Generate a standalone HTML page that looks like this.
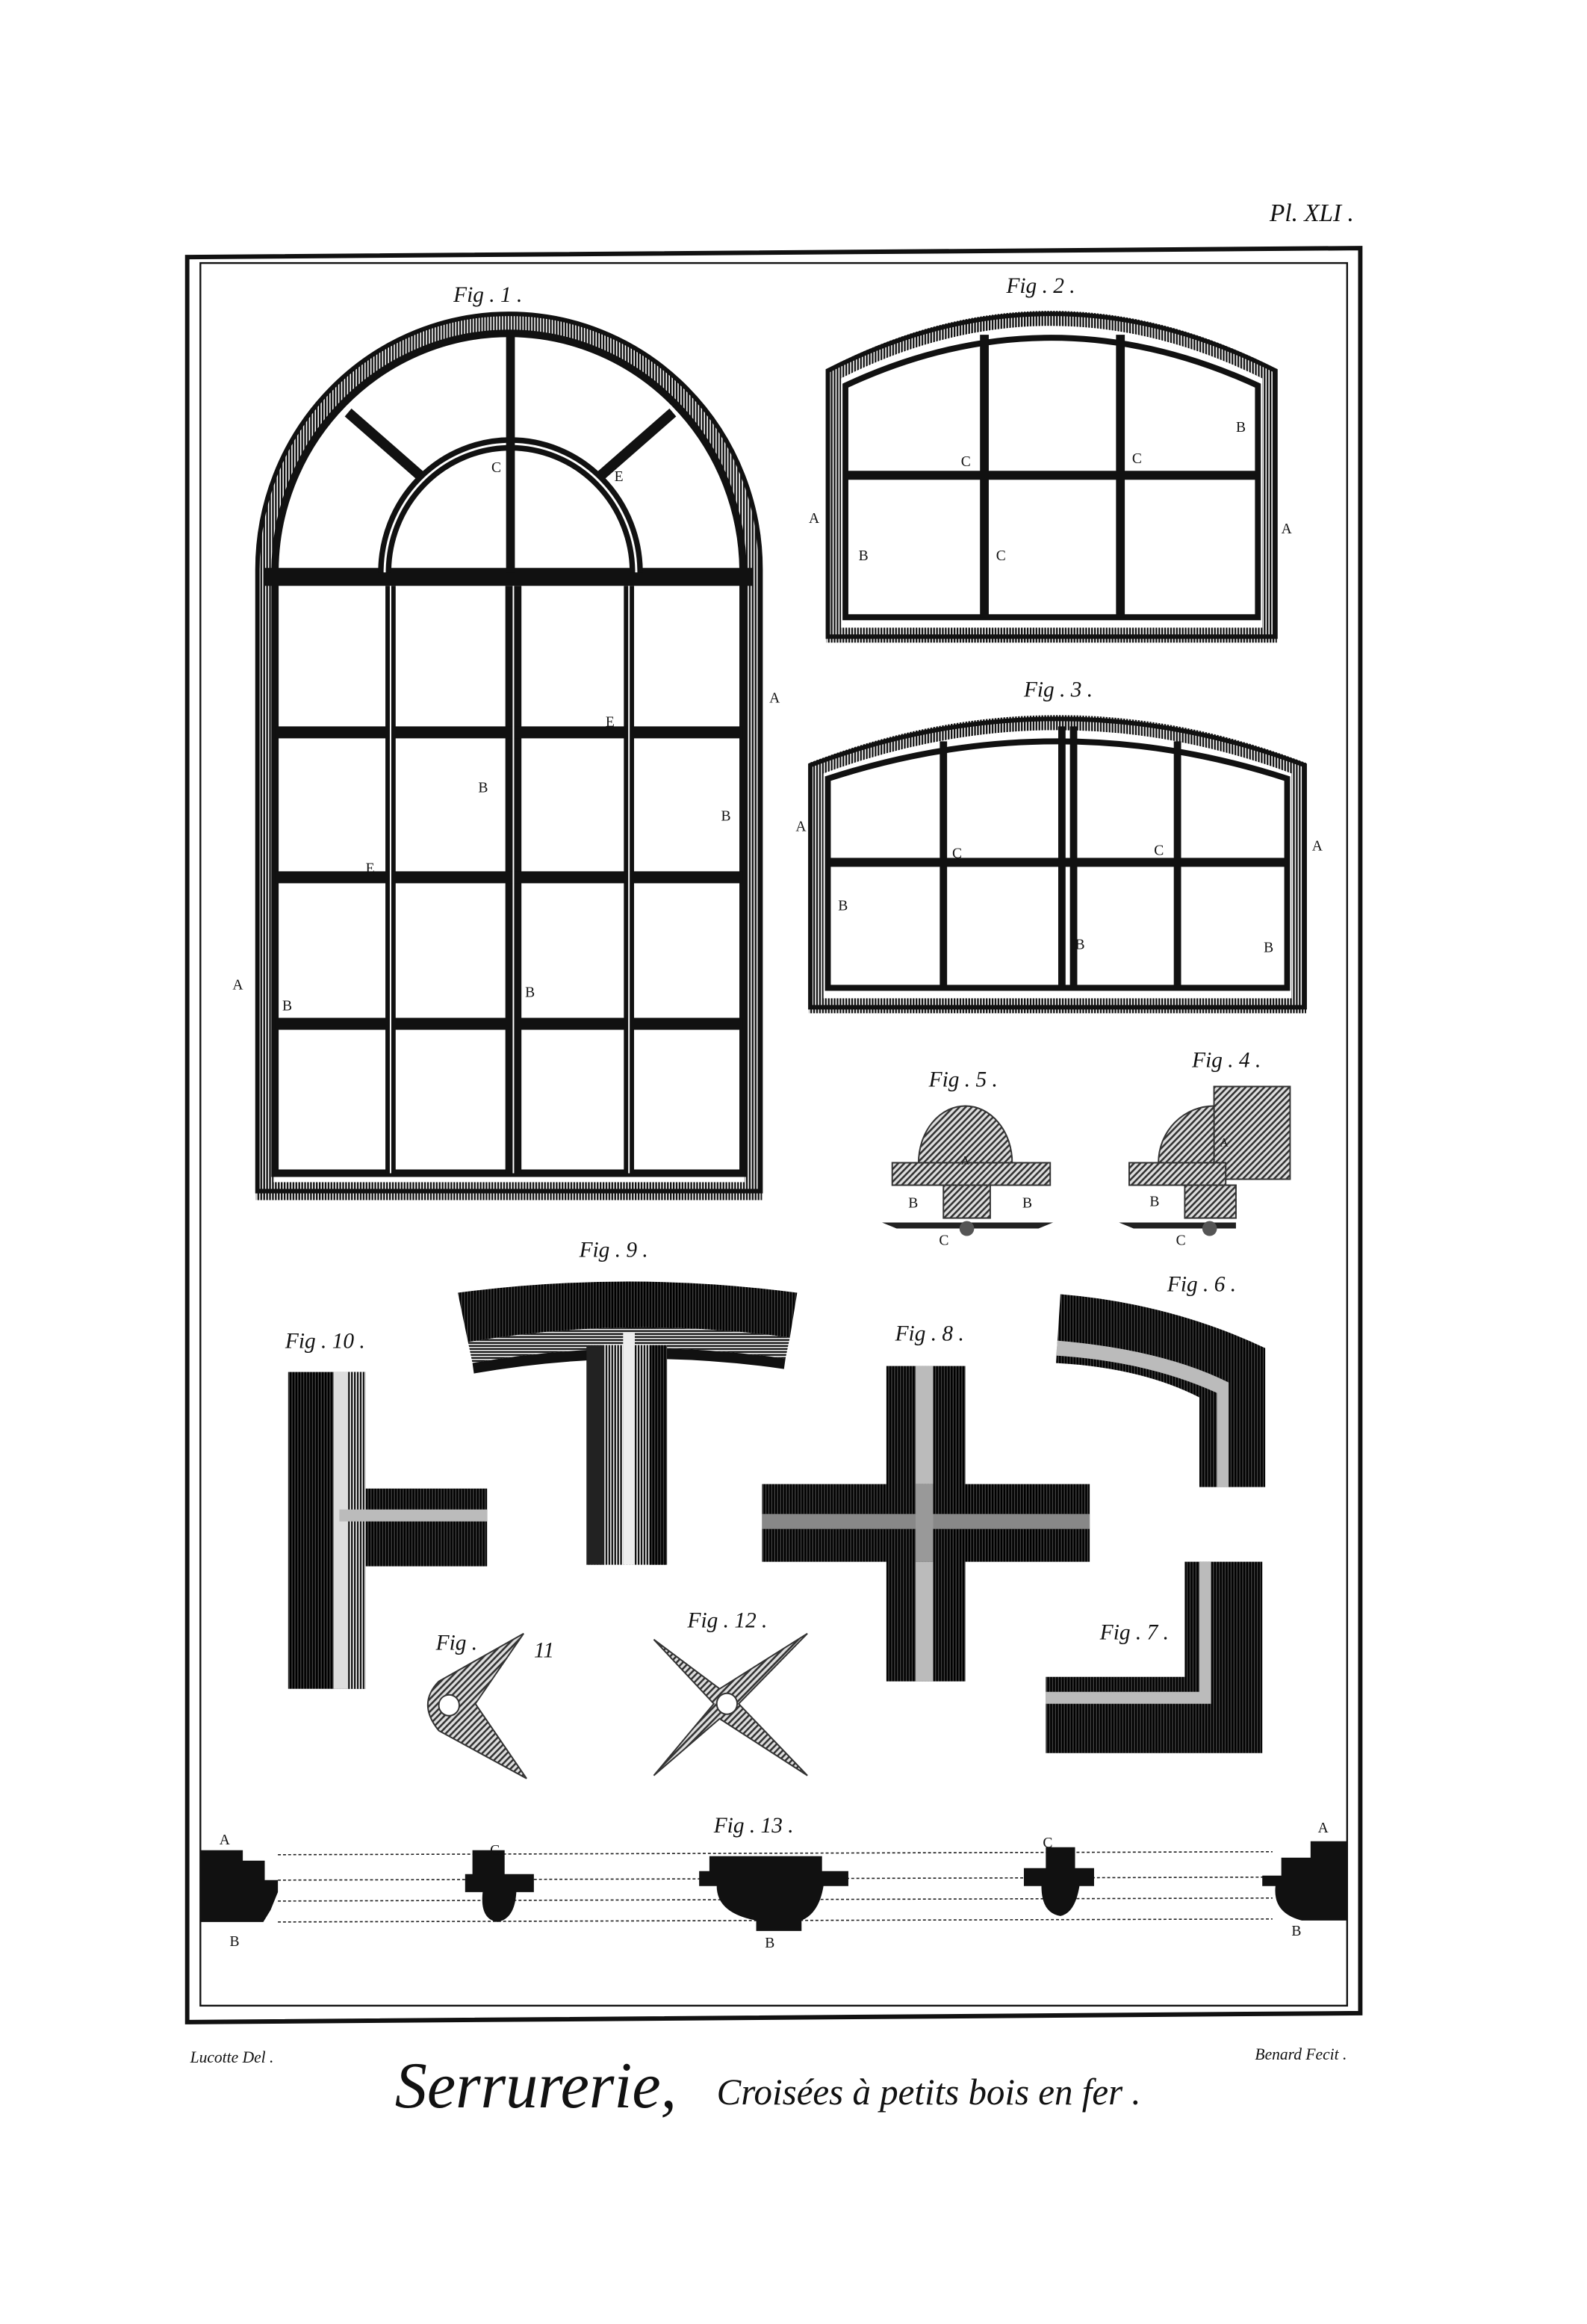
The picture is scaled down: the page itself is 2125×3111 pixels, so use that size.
<!DOCTYPE html>
<html><head><meta charset="utf-8"><style>
html,body{margin:0;padding:0;background:#fff;}
svg{display:block;}
text{font-family:"Liberation Serif",serif;fill:#111;}
.fig{font-style:italic;font-size:15px;}
.l{font-size:10px;}
</style></head><body>
<svg width="2125" height="3111" viewBox="0 0 1085 1555" preserveAspectRatio="none" xmlns="http://www.w3.org/2000/svg">
<defs>
<pattern id="vh" width="2" height="4" patternUnits="userSpaceOnUse"><rect width="2" height="4" fill="#fff"/><rect width="1.2" height="4" fill="#111"/></pattern>
<pattern id="hh" width="4" height="2" patternUnits="userSpaceOnUse"><rect width="4" height="2" fill="#fff"/><rect width="4" height="1.2" fill="#111"/></pattern>
<pattern id="dh" width="3" height="3" patternUnits="userSpaceOnUse" patternTransform="rotate(45)"><rect width="3" height="3" fill="#ddd"/><rect width="1.3" height="3" fill="#333"/></pattern>
<pattern id="dk" width="2" height="4" patternUnits="userSpaceOnUse"><rect width="2" height="4" fill="#444"/><rect width="1.3" height="4" fill="#000"/></pattern>
</defs>

<text x="868" y="148" class="fig" style="font-size:17px">Pl. XLI .</text>
<!-- frames -->
<path d="M128,172 L930,166 L930,1347 L128,1353 Z" fill="none" stroke="#111" stroke-width="3"/>
<rect x="137" y="176" width="784" height="1166" fill="none" stroke="#111" stroke-width="1.2"/>

<!-- Fig 1 -->
<text x="310" y="202" class="fig">Fig . 1 .</text>
<path d="M181,797 V381 A167,166 0 0 1 515,381 V797 Z" fill="none" stroke="url(#vh)" stroke-width="12"/>
<path d="M176,797 V381 A172,171 0 0 1 520,381 V797 Z" fill="none" stroke="#111" stroke-width="3"/>
<path d="M188,785 V383 A160,160 0 0 1 508,383 V785 Z" fill="none" stroke="#111" stroke-width="5"/>
<rect x="181" y="380" width="334" height="12" fill="#111"/>
<path d="M263,383 A86,86 0 0 1 435,383" fill="none" stroke="#111" stroke-width="9"/>
<path d="M263,383 A86,86 0 0 1 435,383" fill="none" stroke="#fff" stroke-width="1.5"/>
<line x1="349" y1="224" x2="349" y2="383" stroke="#111" stroke-width="6"/>
<line x1="287" y1="318" x2="238" y2="276" stroke="#111" stroke-width="7"/>
<line x1="411" y1="318" x2="460" y2="276" stroke="#111" stroke-width="7"/>
<g stroke="#111">
<line x1="267" y1="392" x2="267" y2="785" stroke-width="7"/>
<line x1="430" y1="392" x2="430" y2="785" stroke-width="7"/>
<line x1="351" y1="392" x2="351" y2="785" stroke-width="11"/>
<line x1="188" y1="490" x2="508" y2="490" stroke-width="8"/>
<line x1="188" y1="587" x2="508" y2="587" stroke-width="8"/>
<line x1="188" y1="685" x2="508" y2="685" stroke-width="8"/>
</g>
<g stroke="#fff" stroke-width="1"><line x1="351" y1="392" x2="351" y2="785"/><line x1="267" y1="392" x2="267" y2="785"/><line x1="430" y1="392" x2="430" y2="785"/></g>
<g class="l"><text x="336" y="316" class="l">C</text><text x="420" y="322" class="l">E</text><text x="526" y="470" class="l">A</text><text x="414" y="486" class="l">E</text><text x="327" y="530" class="l">B</text><text x="493" y="549" class="l">B</text><text x="250" y="584" class="l">E</text><text x="159" y="662" class="l">A</text><text x="193" y="676" class="l">B</text><text x="359" y="667" class="l">B</text></g>

<!-- Fig 2 -->
<text x="688" y="196" class="fig">Fig . 2 .</text>
<path d="M570,425 V250 Q718,176 868,250 V425 Z" fill="none" stroke="url(#vh)" stroke-width="10"/>
<path d="M566,426 V248 Q718,172 872,248 V426 Z" fill="none" stroke="#111" stroke-width="3"/>
<path d="M578,413 V258 Q718,194 860,258 V413 Z" fill="none" stroke="#111" stroke-width="4"/>
<g stroke="#111" stroke-width="6"><line x1="673" y1="224" x2="673" y2="413"/><line x1="766" y1="224" x2="766" y2="413"/><line x1="578" y1="318" x2="860" y2="318"/></g>
<text x="845" y="289" class="l">B</text><text x="657" y="312" class="l">C</text><text x="774" y="310" class="l">C</text><text x="553" y="350" class="l">A</text><text x="876" y="357" class="l">A</text><text x="587" y="375" class="l">B</text><text x="681" y="375" class="l">C</text>

<!-- Fig 3 -->
<text x="700" y="466" class="fig">Fig . 3 .</text>
<path d="M558,673 V514 Q723,453 888,514 V673 Z" fill="none" stroke="url(#vh)" stroke-width="10"/>
<path d="M554,674 V512 Q723,450 892,512 V674 Z" fill="none" stroke="#111" stroke-width="3"/>
<path d="M566,661 V521 Q723,471 880,521 V661 Z" fill="none" stroke="#111" stroke-width="4"/>
<g stroke="#111"><line x1="645" y1="496" x2="645" y2="661" stroke-width="5"/><line x1="805" y1="496" x2="805" y2="661" stroke-width="5"/><line x1="726" y1="486" x2="726" y2="661" stroke-width="5"/><line x1="734" y1="486" x2="734" y2="661" stroke-width="5"/><line x1="566" y1="577" x2="880" y2="577" stroke-width="6"/></g>
<text x="544" y="556" class="l">A</text><text x="897" y="569" class="l">A</text><text x="651" y="574" class="l">C</text><text x="789" y="572" class="l">C</text><text x="573" y="609" class="l">B</text><text x="735" y="635" class="l">B</text><text x="864" y="637" class="l">B</text>

<!-- Fig 5 -->
<text x="635" y="727" class="fig">Fig . 5 .</text>
<path d="M628,778 A32,38 0 0 1 692,778 Z" fill="url(#dh)" stroke="#333"/>
<rect x="610" y="778" width="108" height="15" fill="url(#dh)" stroke="#333"/>
<rect x="645" y="793" width="32" height="22" fill="url(#dh)" stroke="#333"/>
<path d="M603,818 L720,818 L710,822 L613,822 Z" fill="#222"/>
<circle cx="661" cy="822" r="5" fill="#555"/>
<text x="621" y="808" class="l">B</text><text x="699" y="808" class="l">B</text><text x="642" y="833" class="l">C</text><text x="657" y="779" class="l" style="font-size:8px">A</text>

<!-- Fig 4 -->
<text x="815" y="714" class="fig">Fig . 4 .</text>
<rect x="830" y="727" width="52" height="62" fill="url(#dh)" stroke="#333"/>
<path d="M792,778 A38,38 0 0 1 830,740 V778 Z" fill="url(#dh)" stroke="#333"/>
<rect x="772" y="778" width="66" height="15" fill="url(#dh)" stroke="#333"/>
<rect x="810" y="793" width="35" height="22" fill="url(#dh)" stroke="#333"/>
<path d="M765,818 L845,818 L845,822 L775,822 Z" fill="#222"/>
<circle cx="827" cy="822" r="5" fill="#555"/>
<text x="786" y="807" class="l">B</text><text x="804" y="833" class="l">C</text><text x="834" y="767" class="l" style="font-size:8px">A</text>

<!-- Fig 9 -->
<text x="396" y="841" class="fig">Fig . 9 .</text>
<path d="M313,865 Q429,850 545,865 L540,895 Q429,880 320,898 Z" fill="url(#dk)"/>
<path d="M320,898 Q429,880 540,895 L537,909 Q429,894 323,912 Z" fill="url(#hh)"/>
<path d="M323,912 Q429,894 537,909 L536,916 Q429,901 324,919 Z" fill="#111"/>
<rect x="401" y="900" width="55" height="147" fill="url(#vh)"/>
<rect x="401" y="900" width="12" height="147" fill="#222"/>
<rect x="426" y="892" width="8" height="155" fill="#eee"/>
<rect x="444" y="900" width="12" height="147" fill="url(#dk)"/>

<!-- Fig 10 -->
<text x="195" y="902" class="fig">Fig . 10 .</text>
<rect x="197" y="918" width="53" height="212" fill="url(#dk)"/>
<rect x="228" y="918" width="10" height="212" fill="#ddd"/>
<rect x="238" y="918" width="12" height="212" fill="url(#vh)"/>
<rect x="250" y="996" width="83" height="52" fill="url(#dk)"/>
<rect x="232" y="1010" width="101" height="8" fill="#bbb"/>

<!-- Fig 8 -->
<text x="612" y="897" class="fig">Fig . 8 .</text>
<rect x="606" y="914" width="54" height="211" fill="url(#dk)"/>
<rect x="626" y="914" width="12" height="211" fill="#bbb"/>
<rect x="521" y="993" width="224" height="52" fill="url(#dk)"/>
<rect x="521" y="1013" width="224" height="10" fill="#888"/>
<rect x="626" y="993" width="12" height="52" fill="#999"/>

<!-- Fig 6 -->
<text x="798" y="864" class="fig">Fig . 6 .</text>
<path d="M725,866 Q800,872 865,902 V995 H820 V935 Q780,915 722,912 Z" fill="url(#dk)"/>
<path d="M723,897 Q795,903 840,925 V995 H832 V932 Q785,911 722,907 Z" fill="#bbb"/>

<!-- Fig 7 -->
<text x="752" y="1097" class="fig">Fig . 7 .</text>
<path d="M810,1045 H863 V1173 H715 V1122 H810 Z" fill="url(#dk)"/>
<path d="M820,1045 H828 V1140 H715 V1132 H820 Z" fill="#bbb"/>

<!-- Fig 11 -->
<text x="298" y="1104" class="fig">Fig .</text><text x="365" y="1109" class="fig">11</text>
<path d="M300,1125 L358,1093 L325,1140 L360,1190 L300,1158 Q285,1140 300,1125 Z" fill="url(#dh)" stroke="#333"/>
<circle cx="307" cy="1141" r="7" fill="#fff" stroke="#333"/>

<!-- Fig 12 -->
<text x="470" y="1089" class="fig">Fig . 12 .</text>
<path d="M447,1097 L492,1130 L552,1093 L505,1140 L552,1188 L492,1150 L447,1188 L488,1140 Z" fill="url(#dh)" stroke="#333"/>
<circle cx="497" cy="1140" r="7" fill="#fff" stroke="#333"/>

<!-- Fig 13 -->
<text x="488" y="1226" class="fig">Fig . 13 .</text>
<g stroke="#222" stroke-width="0.8" stroke-dasharray="2,1.5">
<line x1="190" y1="1241" x2="870" y2="1239"/><line x1="190" y1="1258" x2="870" y2="1256"/><line x1="190" y1="1272" x2="870" y2="1270"/><line x1="190" y1="1286" x2="870" y2="1284"/>
</g>
<path d="M137,1238 H166 V1245 H181 V1258 H190 V1266 L185,1278 L180,1286 H137 Z" fill="#111"/>
<path d="M323,1238 H345 V1254 H365 V1266 H353 Q352,1284 340,1286 Q328,1284 330,1266 H318 V1254 H323 Z" fill="#111"/>
<path d="M485,1242 H562 V1252 H580 V1262 H563 Q560,1280 548,1285 V1292 H517 V1285 Q490,1280 490,1262 H478 V1252 H485 Z" fill="#111"/>
<path d="M715,1236 H735 V1250 H748 V1262 H738 Q735,1280 725,1282 Q712,1280 712,1262 H700 V1250 H715 Z" fill="#111"/>
<path d="M896,1232 H921 V1285 H890 Q870,1280 872,1262 H863 V1255 H876 V1243 H896 Z" fill="#111"/>
<text x="150" y="1234" class="l">A</text><text x="157" y="1302" class="l">B</text><text x="335" y="1241" class="l">C</text><text x="523" y="1303" class="l">B</text><text x="713" y="1236" class="l">C</text><text x="901" y="1226" class="l">A</text><text x="883" y="1295" class="l">B</text>

<!-- footer -->
<text x="130" y="1380" class="fig" style="font-size:11px">Lucotte Del .</text>
<text x="858" y="1378" class="fig" style="font-size:11px">Benard Fecit .</text>
<text x="270" y="1410" style="font-family:'Liberation Serif',serif;font-style:italic;font-size:44px">Serrurerie,</text>
<text x="490" y="1408" style="font-family:'Liberation Serif',serif;font-style:italic;font-size:25px">Croisées à petits bois en fer .</text>
</svg>
</body></html>
